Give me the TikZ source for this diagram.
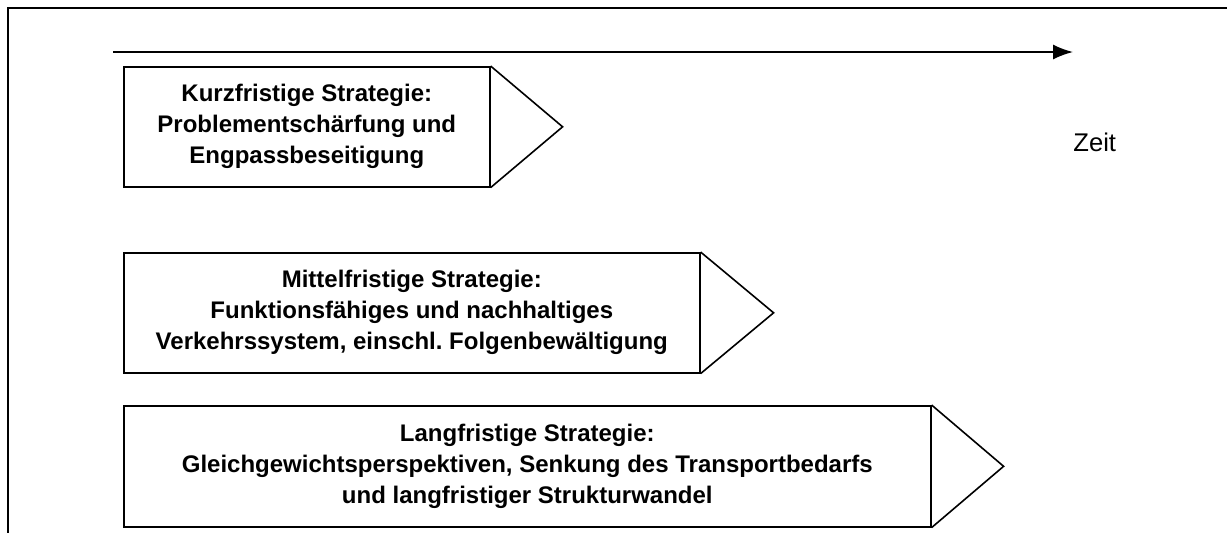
\documentclass[tikz,border=0pt]{standalone}
\usepackage{fontspec}
\setmainfont{Liberation Sans}
\usetikzlibrary{arrows.meta,positioning}
\tikzset{
  sbox/.style   ={draw=black, line width=0.8pt, align=center, inner sep=0pt,
                  anchor=north west, minimum height=60pt,
                  font=\fontsize{12}{15.5}\selectfont\bfseries},
  spitze/.style ={draw=black, line width=0.8pt, line join=miter},
  frame/.style  ={draw=black, line width=1.4pt},
  lbl/.style    ={anchor=west, inner sep=0pt, font=\fontsize{12.8}{15}\selectfont},
  ar/.style     ={-{Latex[length=10pt,width=7.5pt]}, draw=black, line width=0.8pt},
}
\begin{document}
\begin{tikzpicture}[x=0.5pt,y=-0.5pt]
\useasboundingbox (0,0) rectangle (1227,532);
% outer frame (cut off right and bottom)
\draw[frame] (8,600) -- (8,8) -- (1300,8);
% time axis
\coordinate (t0) at (113,52);
\coordinate (t1) at (1073,52);
\draw[ar] (t0) -- (t1);
\node[lbl] (zeit) at (1073,142) {Zeit};
% strategies
\node[sbox, minimum width=183pt] (kurz) at (123,66)
  {Kurzfristige Strategie:\\Problementschärfung und\\Engpassbeseitigung};
\node[sbox, minimum width=288pt] (mittel) at (123,252)
  {Mittelfristige Strategie:\\Funktionsfähiges und nachhaltiges\\Verkehrssystem, einschl.\ Folgenbewältigung};
\node[sbox, minimum width=403.5pt, minimum height=60.5pt] (lang) at (123,405)
  {Langfristige Strategie:\\Gleichgewichtsperspektiven, Senkung des Transportbedarfs\\und langfristiger Strukturwandel};
\draw[spitze] (kurz.north east) -- ([xshift=36pt]kurz.east) -- (kurz.south east);
\draw[spitze] (mittel.north east) -- ([xshift=36.5pt]mittel.east) -- (mittel.south east);
\draw[spitze] (lang.north east) -- ([xshift=36pt]lang.east) -- (lang.south east);
\end{tikzpicture}
\end{document}
